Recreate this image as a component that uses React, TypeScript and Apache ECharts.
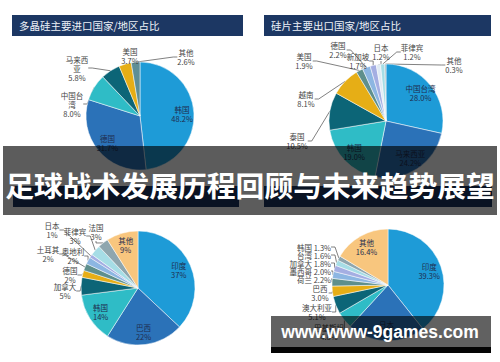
import React, { useEffect, useRef } from 'react';
import * as echarts from 'echarts';

const title1 = '多晶硅主要进口国家/地区占比';
const title2 = '硅片主要出口国家/地区占比';
const bannerText = '足球战术发展历程回顾与未来趋势展望';
const watermarkText = 'www.www-9games.com';

const pie1Names = ['韩国', '德国', '中国台湾', '马来西亚', '美国', '其他'];
const pie1Values = [48.2, 31.7, 8.0, 5.8, 3.7, 2.6];
const pie1Inside = ['韩国', '德国'];

const pie2Names = ['中国台湾', '马来西亚', '韩国', '泰国', '越南', '美国', '德国', '新加坡', '日本', '菲律宾', '其他'];
const pie2Values = [28.0, 24.2, 19.0, 10.5, 8.1, 1.9, 2.2, 1.7, 1.2, 1.2, 0.3];
const pie2Inside = ['中国台湾', '马来西亚', '韩国'];

const pie3Names = ['印度', '巴西', '韩国', '加拿大', '德国', '土耳其', '奥地利', '日本', '菲律宾', '法国', '其他'];
const pie3Values = [37, 22, 14, 5, 2, 2, 2, 1, 3, 3, 9];
const pie3Inside = ['印度', '巴西', '韩国', '其他'];

const pie4Names = ['印度', '日本', '巴基斯坦', '澳大利亚', '巴西', '荷兰', '墨西哥', '加拿大', '台湾', '韩国', '其他'];
const pie4Values = [39.3, 22.5, 4.8, 5.1, 3.0, 2.2, 2.0, 1.8, 1.6, 1.3, 16.4];
const pie4Inside = ['印度', '日本', '其他'];
const pie4OneLine = ['荷兰', '墨西哥', '加拿大', '台湾', '韩国'];

const colors1 = ['#1e9bd7', '#2b72b8', '#2fbcc6', '#0c6577', '#e6ae16', '#5e8f96'];
const colors2 = ['#1e9bd7', '#2b72b8', '#2fbcc6', '#0c6577', '#e6ae16', '#5e8f8c', '#8cb6e2', '#a4aee2', '#dfeaf4', '#a6dde6', '#8fa6ae'];
const colors3 = ['#1e9bd7', '#2b72b8', '#2fbcc6', '#0c6577', '#e6ae16', '#5e8f8c', '#8cb6e2', '#a4aee2', '#a6dde6', '#8fa6ae', '#f8c67e'];
const colors4 = ['#1e9bd7', '#2b72b8', '#2fbcc6', '#0c6577', '#e6ae16', '#5e8f8c', '#8cb6e2', '#a4aee2', '#a6dde6', '#8fa6ae', '#f8c67e'];

// label anchor positions (layout only): [x, y, align]
type Pos = [number, number, string?];
const labelPos1: Record<string, Pos> = {
  '中国台湾': [72, 104], '马来西亚': [77, 68], '美国': [130, 56], '其他': [186, 57],
};
const labelPos2: Record<string, Pos> = {
  '泰国': [297, 141], '越南': [306, 99], '美国': [304, 61], '德国': [338, 50],
  '新加坡': [358, 61], '日本': [381, 52], '菲律宾': [412, 52], '其他': [454, 65],
};
const labelPos3: Record<string, Pos> = {
  '加拿大': [65, 291], '德国': [70, 275], '土耳其': [48, 254], '奥地利': [73, 256],
  '日本': [52, 230], '菲律宾': [75, 236], '法国': [96, 232],
};
const labelPos4: Record<string, Pos> = {
  '巴基斯坦': [329, 332], '澳大利亚': [317, 312], '巴西': [320, 293],
  '荷兰': [331, 279, 'right'], '墨西哥': [331, 271, 'right'], '加拿大': [331, 263, 'right'],
  '台湾': [331, 255, 'right'], '韩国': [331, 247, 'right'],
};

const FONT = '"Noto Sans CJK SC", "Noto Sans", sans-serif';

function wrap(name: string, n: number) {
  return name.length > n ? name.slice(0, n) + '\n' + name.slice(n) : name;
}

function buildPie(
  names: string[], values: number[], colors: string[], inside: string[],
  cx: number, cy: number, r: number, digits: number, wrapN: number,
  labelPos: Record<string, Pos>, oneLine: string[] = []
) {
  const fmt = (p: any) => {
    const pct = Number(p.value).toFixed(digits) + '%';
    return oneLine.includes(p.name) ? p.name + ' ' + pct : wrap(p.name, wrapN) + '\n' + pct;
  };
  const main = {
    type: 'pie',
    center: [cx, cy],
    radius: r,
    startAngle: 90,
    clockwise: true,
    silent: true,
    avoidLabelOverlap: false,
    itemStyle: { borderColor: '#ffffff', borderWidth: 0.5 },
    label: {
      position: 'outside', fontSize: 7.5, lineHeight: 9, color: '#444444',
      fontFamily: FONT, formatter: fmt,
    },
    labelLine: { length: 6, length2: 4, lineStyle: { color: '#4a4a4a', width: 0.7 } },
    labelLayout: (params: any) => {
      const name = names[params.dataIndex];
      const pos = labelPos[name];
      if (!pos) return {};
      return { x: pos[0], y: pos[1], align: pos[2] || 'center', verticalAlign: 'middle' };
    },
    data: names.map((n, i) => ({
      name: n, value: values[i],
      itemStyle: { color: colors[i] },
      label: { show: !inside.includes(n) },
      labelLine: { show: !inside.includes(n) },
    })),
  };
  const ghost = {
    type: 'pie',
    center: [cx, cy],
    radius: r * 1.45,
    startAngle: 90,
    clockwise: true,
    silent: true,
    z: 5,
    itemStyle: { color: 'transparent', borderWidth: 0 },
    label: {
      position: 'inside', fontSize: 7.5, lineHeight: 9, color: '#1f2d4f',
      fontFamily: FONT, formatter: fmt,
    },
    labelLine: { show: false },
    data: names.map((n, i) => ({
      name: n, value: values[i],
      label: { show: inside.includes(n) },
    })),
  };
  return [main, ghost];
}

function titleBar(x: number, y: number, w: number, text: string) {
  return [
    { type: 'rect', z: 10, shape: { x, y, width: w, height: 21 }, style: { fill: '#1c3763' } },
    {
      type: 'text', z: 11, x: x + 7, y: y + 10.5,
      style: { text, fill: '#eef2f8', fontSize: 10.5, fontFamily: FONT, textVerticalAlign: 'middle' },
    },
  ];
}

export default function App() {
  const ref = useRef<HTMLDivElement>(null);
  useEffect(() => {
    document.body.style.margin = '0';
    const chart = echarts.init(ref.current!, undefined, { renderer: 'svg' });
    chart.setOption({
      animation: false,
      backgroundColor: '#ffffff',
      series: [
        ...buildPie(pie1Names, pie1Values, colors1, pie1Inside, 140, 116, 54, 1, 3, labelPos1),
        ...buildPie(pie2Names, pie2Values, colors2, pie2Inside, 386, 121, 57, 1, 6, labelPos2),
        ...buildPie(pie3Names, pie3Values, colors3, pie3Inside, 138, 288, 57, 0, 6, labelPos3),
        ...buildPie(pie4Names, pie4Values, colors4, pie4Inside, 388, 285, 56, 1, 6, labelPos4, pie4OneLine),
      ],
      graphic: [
        ...titleBar(12, 15, 231, title1),
        ...titleBar(264, 15, 227, title2),
        { type: 'rect', z: 10, shape: { x: 13, y: 186, width: 226, height: 21 }, style: { fill: '#1c3763' } },
        { type: 'rect', z: 10, shape: { x: 264, y: 186, width: 228, height: 21 }, style: { fill: '#1c3763' } },
        { type: 'rect', z: 50, shape: { x: 3, y: 146, width: 494, height: 69 }, style: { fill: 'rgba(0,0,0,0.64)' } },
        {
          type: 'text', z: 51, x: 250, y: 184,
          style: {
            text: bannerText, fill: '#ffffff', fontSize: 28.8, fontWeight: 'bold',
            fontFamily: FONT, textAlign: 'center', textVerticalAlign: 'middle',
          },
        },
        { type: 'rect', z: 50, shape: { x: 271, y: 316, width: 220, height: 31 }, style: { fill: 'rgba(0,0,0,0.62)' } },
        { type: 'rect', z: 50, shape: { x: 271, y: 347, width: 220, height: 6 }, style: { fill: '#050505' } },
        {
          type: 'text', z: 51, x: 380, y: 332,
          style: {
            text: watermarkText, fill: '#ffffff', fontSize: 17.5, fontWeight: 'bold',
            fontFamily: '"Liberation Sans", Arial, sans-serif', textAlign: 'center', textVerticalAlign: 'middle',
          },
        },
      ],
    });
    return () => chart.dispose();
  }, []);
  return <div ref={ref} style={{ position: 'fixed', left: 0, top: 0, width: 500, height: 362 }} />;
}
